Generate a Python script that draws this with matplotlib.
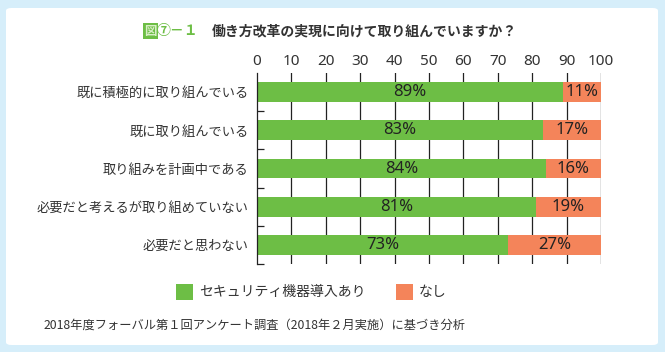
import matplotlib.pyplot as plt
from matplotlib.patches import FancyBboxPatch, Rectangle

plt.rcParams['font.family'] = ['Noto Sans CJK JP', 'DejaVu Sans']
numfont = ['Noto Sans', 'DejaVu Sans']

categories = ["既に積極的に取り組んでいる", "既に取り組んでいる", "取り組みを計画中である",
              "必要だと考えるが取り組めていない", "必要だと思わない"]
with_security = [89, 83, 84, 81, 73]
without_security = [11, 17, 16, 19, 27]
series_names = ["セキュリティ機器導入あり", "なし"]
xticks = [0, 10, 20, 30, 40, 50, 60, 70, 80, 90, 100]

green = '#6dbe45'
orange = '#f4845a'
textc = '#333333'

W, H = 665, 352
fig = plt.figure(figsize=(W / 100, H / 100), dpi=100)
fig.patch.set_facecolor('#d6eefa')

# white panel behind everything
panel = FancyBboxPatch((6 / W, 7 / H), 652 / W, 337 / H,
                       boxstyle="round,pad=0,rounding_size=0.008",
                       transform=fig.transFigure, facecolor='white',
                       edgecolor='none', zorder=-5)
fig.patches.append(panel)

ax = fig.add_axes([257 / W, 1 - 264 / H, 344 / W, 191 / H], zorder=2)
ax.set_facecolor('none')
ypos = list(range(len(categories)))
ax.barh(ypos, with_security, height=0.52, color=green, zorder=2)
ax.barh(ypos, without_security, left=with_security, height=0.52, color=orange, zorder=2)

for i in ypos:
    g = with_security[i]
    o = without_security[i]
    ax.text(g / 2, i, f"{g}%", ha='center', va='center', fontsize=12, color='#222222',
            family=numfont, zorder=3)
    ax.text(g + o / 2, i, f"{o}%", ha='center', va='center', fontsize=12, color='#222222',
            family=numfont, zorder=3)

ax.set_xlim(0, 100)
ax.set_ylim(len(categories) - 0.5, -0.5)
for x in xticks[1:]:
    ax.axvline(x, color='#222222', lw=0.9, zorder=1)

ax.xaxis.tick_top()
ax.set_xticks(xticks)
ax.set_xticklabels([str(t) for t in xticks], fontsize=11, color=textc, family=numfont)
ax.tick_params(axis='x', length=0, pad=3)

ax.set_yticks(ypos)
ax.set_yticklabels(categories, fontsize=9.5, color=textc)
ax.tick_params(axis='y', which='major', length=0, pad=6)
ax.set_yticks([i + 0.5 for i in ypos], minor=True)
ax.tick_params(axis='y', which='minor', direction='in', length=5, width=0.9, color='#222222')

for s in ['top', 'right', 'bottom']:
    ax.spines[s].set_visible(False)
ax.spines['left'].set_color('#222222')
ax.spines['left'].set_linewidth(0.9)

# title
fig.text(144 / W, 1 - 31 / H, "図", fontsize=9, color='#d8efc6', fontweight='bold', va='center',
         bbox=dict(facecolor=green, edgecolor='none', pad=0.8))
fig.text(157 / W, 1 - 31 / H, "⑦－１", fontsize=10, color=green, fontweight='bold', va='center')
fig.text(212 / W, 1 - 31 / H, "働き方改革の実現に向けて取り組んでいますか？", fontsize=10,
         color=textc, fontweight='bold', va='center')

# legend
fig.patches.append(Rectangle((176 / W, 1 - 300 / H), 17 / W, 16 / H, transform=fig.transFigure,
                             facecolor=green, edgecolor='none'))
fig.text(199 / W, 1 - 292 / H, series_names[0], fontsize=10, color=textc, va='center')
fig.patches.append(Rectangle((396 / W, 1 - 300 / H), 17 / W, 16 / H, transform=fig.transFigure,
                             facecolor=orange, edgecolor='none'))
fig.text(419 / W, 1 - 292 / H, series_names[1], fontsize=10, color=textc, va='center')

fig.text(44 / W, 1 - 325 / H, "2018年度フォーバル第１回アンケート調査（2018年２月実施）に基づき分析",
         fontsize=8.8, color=textc, va='center')

fig.savefig('out.png', dpi=100, facecolor=fig.get_facecolor())
